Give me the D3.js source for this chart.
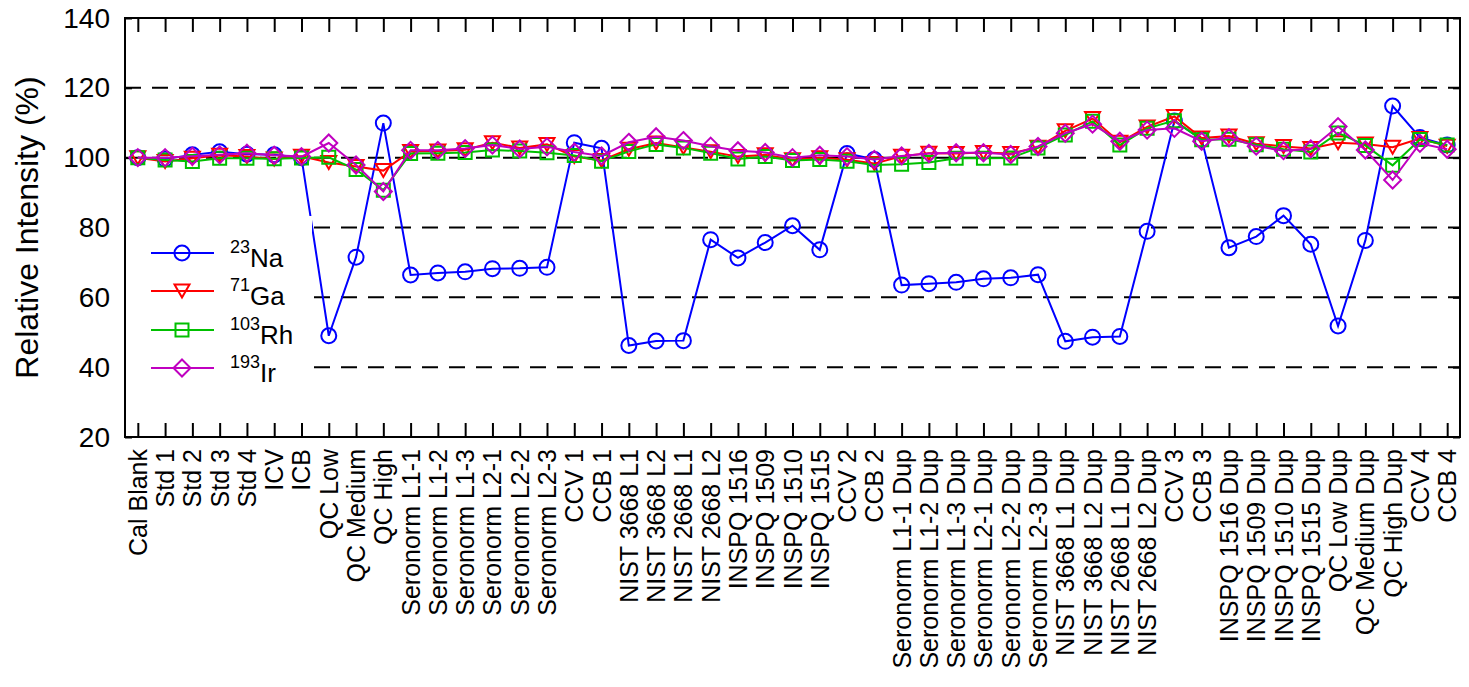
<!DOCTYPE html>
<html>
<head>
<meta charset="utf-8">
<script src="https://cdn.jsdelivr.net/npm/d3@7/dist/d3.min.js"></script>
<style>
  html, body { margin: 0; padding: 0; background: #fff; }
  svg { display: block; }
  text { font-family: "Liberation Sans", Arial, sans-serif; fill: #000; }
</style>
</head>
<body>
<svg id="chart" width="1469" height="687"></svg>
<script>
const categories = ["Cal Blank","Std 1","Std 2","Std 3","Std 4","ICV","ICB","QC Low","QC Medium","QC High",
  "Seronorm L1-1","Seronorm L1-2","Seronorm L1-3","Seronorm L2-1","Seronorm L2-2","Seronorm L2-3",
  "CCV 1","CCB 1","NIST 3668 L1","NIST 3668 L2","NIST 2668 L1","NIST 2668 L2",
  "INSPQ 1516","INSPQ 1509","INSPQ 1510","INSPQ 1515","CCV 2","CCB 2",
  "Seronorm L1-1 Dup","Seronorm L1-2 Dup","Seronorm L1-3 Dup","Seronorm L2-1 Dup","Seronorm L2-2 Dup","Seronorm L2-3 Dup",
  "NIST 3668 L1 Dup","NIST 3668 L2 Dup","NIST 2668 L1 Dup","NIST 2668 L2 Dup","CCV 3","CCB 3",
  "INSPQ 1516 Dup","INSPQ 1509 Dup","INSPQ 1510 Dup","INSPQ 1515 Dup","QC Low Dup","QC Medium Dup","QC High Dup","CCV 4","CCB 4"];

const na = [100, 99.6, 100.8, 101.7, 101.0, 100.8, 100.0, 49.0, 71.5, 109.9,
  66.4, 67.0, 67.3, 68.2, 68.3, 68.6, 104.3, 102.7, 46.2, 47.5, 47.6, 76.5,
  71.3, 75.7, 80.5, 73.6, 101.2, 99.5, 63.5, 63.9, 64.3, 65.3, 65.6, 66.5,
  47.4, 48.6, 48.8, 78.9, 110.5, 105.2, 74.2, 77.4, 83.4, 75.2, 51.8, 76.3, 114.8, 105.8, 103.6];

const ga = [100, 98.9, 99.8, 100.7, 100.3, 99.6, 100.4, 98.6, 97.5, 96.3,
  101.8, 101.9, 102.3, 104.3, 102.8, 103.8, 100.3, 99.2, 102.4, 104.2, 102.9, 101.7,
  100.3, 100.8, 99.4, 100.0, 99.4, 98.3, 100.4, 101.3, 101.2, 101.5, 101.2, 103.0,
  107.7, 111.2, 104.4, 108.8, 111.8, 105.6, 106.2, 104.0, 103.2, 102.6, 104.3, 103.9, 103.0, 105.5, 103.3];

const rh = [100, 99.3, 98.9, 99.8, 99.8, 99.7, 99.9, 100.1, 96.6, 90.7,
  101.2, 101.3, 101.5, 102.2, 101.9, 101.4, 100.6, 99.0, 101.8, 103.8, 102.8, 101.3,
  99.6, 100.3, 99.2, 99.5, 99.0, 97.9, 98.1, 98.6, 99.8, 99.8, 99.9, 102.8,
  106.5, 110.4, 103.6, 108.4, 110.6, 105.1, 105.3, 103.7, 102.4, 101.6, 107.1, 103.5, 97.8, 105.2, 103.6];

const ir = [100, 100.0, 100.4, 100.8, 101.3, 100.7, 100.3, 104.2, 97.9, 90.3,
  102.1, 102.1, 102.6, 103.6, 102.5, 103.1, 101.6, 100.5, 104.4, 106.0, 104.9, 103.3,
  102.0, 101.5, 100.0, 100.7, 100.3, 99.5, 100.5, 101.2, 101.4, 101.4, 100.9, 103.2,
  107.0, 109.6, 104.7, 107.9, 108.4, 104.7, 105.7, 103.3, 102.0, 102.5, 108.9, 102.2, 93.6, 104.1, 102.4];

const yTicks = [20, 40, 60, 80, 100, 120, 140];
const gridValues = [40, 60, 80, 100, 120];

const seriesList = [
  { mass: "23", sym: "Na", values: na, color: "#0000ff", marker: "circle" },
  { mass: "71", sym: "Ga", values: ga, color: "#ff0000", marker: "triangleDown" },
  { mass: "103", sym: "Rh", values: rh, color: "#00c000", marker: "square" },
  { mass: "193", sym: "Ir", values: ir, color: "#c000c0", marker: "diamond" }
];

const svg = d3.select("#chart");
const L = 125, R = 1460, T = 18, B = 437;

const x = d3.scalePoint().domain(categories).range([L, R]).padding(0.47);
const y = d3.scaleLinear().domain([20, 140]).range([B, T]);

const markerPath = {
  circle: d3.path ? (() => { const p = d3.path(); p.arc(0, 0, 7.5, 0, 2 * Math.PI); p.closePath(); return p.toString(); })() : "",
  triangleDown: "M-7.5,-6.5L7.5,-6.5L0,6.5Z",
  square: "M-6.5,-6.5L6.5,-6.5L6.5,6.5L-6.5,6.5Z",
  diamond: "M0,-8.5L8.5,0L0,8.5L-8.5,0Z"
};

// gridlines
svg.append("g").selectAll("line").data(gridValues).join("line")
  .attr("x1", L).attr("x2", R)
  .attr("y1", d => y(d)).attr("y2", d => y(d))
  .attr("stroke", "#000").attr("stroke-width", 2)
  .attr("stroke-dasharray", "16,11");

// y ticks (inward, both sides)
const yAxisL = d3.axisLeft(y).tickValues(yTicks).tickSize(-7).tickFormat("");
const yAxisR = d3.axisRight(y).tickValues(yTicks).tickSize(-7).tickFormat("");
svg.append("g").attr("transform", `translate(${L},0)`).call(yAxisL)
  .call(g => g.select(".domain").remove())
  .selectAll("line").attr("stroke", "#000").attr("stroke-width", 2);
svg.append("g").attr("transform", `translate(${R},0)`).call(yAxisR)
  .call(g => g.select(".domain").remove())
  .selectAll("line").attr("stroke", "#000").attr("stroke-width", 2);

// x ticks top and bottom (inward)
const xAxisB = d3.axisBottom(x).tickSize(-14).tickFormat("");
const xAxisT = d3.axisTop(x).tickSize(-14).tickFormat("");
svg.append("g").attr("transform", `translate(0,${B})`).call(xAxisB)
  .call(g => g.select(".domain").remove())
  .selectAll("line").attr("stroke", "#000").attr("stroke-width", 2);
svg.append("g").attr("transform", `translate(0,${T})`).call(xAxisT)
  .call(g => g.select(".domain").remove())
  .selectAll("line").attr("stroke", "#000").attr("stroke-width", 2);

// series
const line = d3.line().x((d, i) => x(categories[i])).y(d => y(d));
seriesList.forEach(s => {
  const g = svg.append("g");
  g.append("path").datum(s.values).attr("d", line)
    .attr("fill", "none").attr("stroke", s.color).attr("stroke-width", 2);
  g.selectAll("path.m").data(s.values).join("path").attr("class", "m")
    .attr("d", markerPath[s.marker])
    .attr("transform", (d, i) => `translate(${x(categories[i])},${y(d)})`)
    .attr("fill", "none").attr("stroke", s.color).attr("stroke-width", 2);
});

// legend
const leg = svg.append("g");
leg.append("rect").attr("x", L + 1).attr("y", 216).attr("width", 312 - L - 1).attr("height", 170).attr("fill", "#fff");
const rowY = [253, 291, 330, 368];
seriesList.forEach((s, i) => {
  const ry = rowY[i];
  leg.append("line").attr("x1", 151).attr("x2", 214).attr("y1", ry).attr("y2", ry)
    .attr("stroke", s.color).attr("stroke-width", 2);
  leg.append("path").attr("d", markerPath[s.marker]).attr("transform", `translate(182,${ry})`)
    .attr("fill", "none").attr("stroke", s.color).attr("stroke-width", 2);
  const t = leg.append("text").attr("x", 230).attr("y", ry + 14).style("font-size", "26px");
  t.append("tspan").style("font-size", "18px").attr("dy", -14).text(s.mass);
  t.append("tspan").attr("dy", 14).text(s.sym);
});

// frame
svg.append("rect").attr("x", L).attr("y", T).attr("width", R - L).attr("height", B - T)
  .attr("fill", "none").attr("stroke", "#000").attr("stroke-width", 2);

// y tick labels
svg.append("g").selectAll("text").data(yTicks).join("text")
  .attr("x", 110).attr("y", d => y(d)).attr("text-anchor", "end")
  .attr("dominant-baseline", "central").style("font-size", "28px").text(d => d);

// y title
svg.append("text").attr("transform", `translate(38,${(T + B) / 2}) rotate(-90)`)
  .attr("text-anchor", "middle").style("font-size", "32px").text("Relative Intensity (%)");

// x category labels
svg.append("g").selectAll("text").data(categories).join("text")
  .attr("transform", d => `translate(${x(d)},449) rotate(-90)`)
  .attr("text-anchor", "end").attr("dominant-baseline", "central")
  .style("font-size", "25px").text(d => d);
</script>
</body>
</html>
